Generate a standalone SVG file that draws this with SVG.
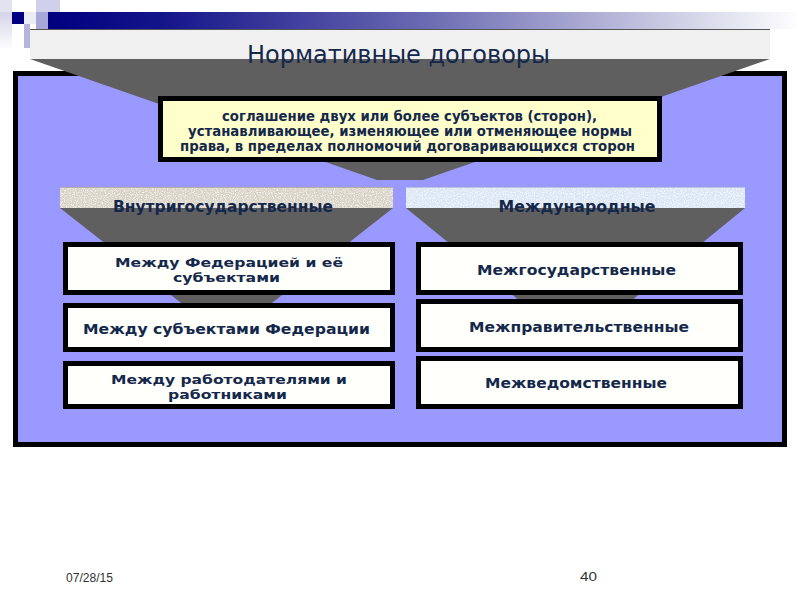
<svg xmlns="http://www.w3.org/2000/svg" width="800" height="600" viewBox="0 0 800 600">
<defs>
<linearGradient id="topbar" x1="0" y1="0" x2="1" y2="0">
<stop offset="0" stop-color="#000080"/>
<stop offset="0.15" stop-color="#14148a"/>
<stop offset="0.5" stop-color="#6a6ab2"/>
<stop offset="0.8" stop-color="#c4c4e0"/>
<stop offset="1" stop-color="#ffffff"/>
</linearGradient>
<linearGradient id="sidefade" x1="0" y1="0" x2="0" y2="1">
<stop offset="0" stop-color="#d4d4ea"/>
<stop offset="1" stop-color="#ffffff"/>
</linearGradient>
<filter id="grain" x="0" y="0" width="1" height="1">
<feTurbulence type="fractalNoise" baseFrequency="0.9" numOctaves="2" seed="3" result="n"/>
<feColorMatrix in="n" type="matrix" values="0 0 0 0 1  0 0 0 0 1  0 0 0 0 1  0 0 0 -2.2 1.25" result="w"/>
<feComposite in="w" in2="SourceGraphic" operator="in"/>
</filter>
<style>
.box{stroke:#000;stroke-width:5;fill:#fffffb}
.funnel{fill:#5f5f5f}
.t{font-family:"DejaVu Sans","Verdana",sans-serif;fill:#14284b;text-anchor:middle}
.def{font-size:13.5px;font-weight:bold}
.bt{font-size:14px;font-weight:bold}
.bt2{font-size:13px;font-weight:bold}
.band{font-size:15px;font-weight:bold}
.foot{font-family:"Liberation Sans",Arial,sans-serif;fill:#333;font-size:12px}
</style>
</defs>
<rect width="800" height="600" fill="#ffffff"/>

<!-- decorative header -->
<g id="header">
<rect x="0" y="0" width="12" height="12" fill="#e2e2f1"/>
<rect x="0" y="12" width="12" height="38" fill="url(#sidefade)"/>
<rect x="36" y="0" width="24" height="12" fill="#d0d0ea"/>
<rect x="48" y="12" width="752" height="17" fill="url(#topbar)"/>
<rect x="12" y="12" width="12" height="12" fill="#000080"/>
<rect x="24" y="12" width="12" height="12" fill="#ececf6"/>
<rect x="36" y="12" width="12" height="17" fill="#a8a8d8"/>
<rect x="24" y="24" width="6" height="24" fill="#b4b4dc"/>
</g>

<!-- main frame -->
<rect id="frame" x="15.5" y="73.5" width="769" height="371" fill="#9999ff" stroke="#000" stroke-width="5"/>

<g id="connectors">
<polygon class="funnel" points="30,59 770,59 423,180 377,180"/>
<polygon class="funnel" points="60,208 393,208 263,310 190,310"/>
<polygon class="funnel" points="406,208 745,208 620,310 531,310"/>
</g>

<g id="title">
<rect x="30" y="29" width="740" height="30" fill="#f0f0f0"/>
<line x1="30" y1="29.5" x2="770" y2="29.5" stroke="#555" stroke-width="1"/>
<text class="t" x="398.5" y="63" font-size="24" textLength="303" lengthAdjust="spacingAndGlyphs">Нормативные договоры</text>
</g>

<g id="definition">
<rect x="160.5" y="98.5" width="499" height="61" stroke="#000" stroke-width="5" fill="#ffffcc"/>
<text class="t def" x="409.5" y="121" textLength="375" lengthAdjust="spacingAndGlyphs">соглашение двух или более субъектов (сторон),</text>
<text class="t def" x="410" y="136" textLength="444" lengthAdjust="spacingAndGlyphs">устанавливающее, изменяющее или отменяющее нормы</text>
<text class="t def" x="407.5" y="151" textLength="455" lengthAdjust="spacingAndGlyphs">права, в пределах полномочий договаривающихся сторон</text>
</g>

<g id="band-internal">
<rect x="60" y="187" width="333" height="21" fill="#d8d2c6"/>
<rect x="60" y="187" width="333" height="21" fill="#000" filter="url(#grain)"/>
<line x1="60" y1="187.5" x2="393" y2="187.5" stroke="#b8b2a6" stroke-width="1"/>
<text class="t band" x="223" y="212" textLength="220" lengthAdjust="spacingAndGlyphs">Внутригосударственные</text>
</g>

<g id="band-international">
<rect x="406" y="187" width="339" height="21" fill="#dbe6f4"/>
<rect x="406" y="187" width="339" height="21" fill="#000" filter="url(#grain)"/>
<line x1="406" y1="187.5" x2="745" y2="187.5" stroke="#b8c6dc" stroke-width="1"/>
<text class="t band" x="577" y="212" textLength="157" lengthAdjust="spacingAndGlyphs">Международные</text>
</g>

<g id="box-federation">
<rect class="box" x="65.5" y="244.5" width="327" height="48"/>
<text class="t bt2" x="229" y="267" textLength="228" lengthAdjust="spacingAndGlyphs">Между Федерацией и её</text>
<text class="t bt2" x="226.5" y="282" textLength="107" lengthAdjust="spacingAndGlyphs">субъектами</text>
</g>

<g id="box-subjects">
<rect class="box" x="65.5" y="305.5" width="327" height="44"/>
<text class="t bt" x="226.5" y="334" textLength="287" lengthAdjust="spacingAndGlyphs">Между субъектами Федерации</text>
</g>

<g id="box-employers">
<rect class="box" x="65.5" y="363.5" width="327" height="43"/>
<text class="t bt2" x="229" y="384" textLength="236" lengthAdjust="spacingAndGlyphs">Между работодателями и</text>
<text class="t bt2" x="227.5" y="399" textLength="119" lengthAdjust="spacingAndGlyphs">работниками</text>
</g>

<g id="box-interstate">
<rect class="box" x="418.5" y="244.5" width="322" height="48"/>
<text class="t bt" x="576.5" y="275" textLength="199" lengthAdjust="spacingAndGlyphs">Межгосударственные</text>
</g>

<g id="box-intergov">
<rect class="box" x="418.5" y="301.5" width="322" height="48"/>
<text class="t bt" x="579" y="332" textLength="220" lengthAdjust="spacingAndGlyphs">Межправительственные</text>
</g>

<g id="box-interdept">
<rect class="box" x="418.5" y="358.5" width="322" height="48"/>
<text class="t bt" x="576" y="388" textLength="182" lengthAdjust="spacingAndGlyphs">Межведомственные</text>
</g>

<g id="footer">
<text class="foot" x="66" y="582" textLength="47" lengthAdjust="spacingAndGlyphs">07/28/15</text>
<text class="foot" x="580" y="581" textLength="17" lengthAdjust="spacingAndGlyphs">40</text>
</g>
</svg>
